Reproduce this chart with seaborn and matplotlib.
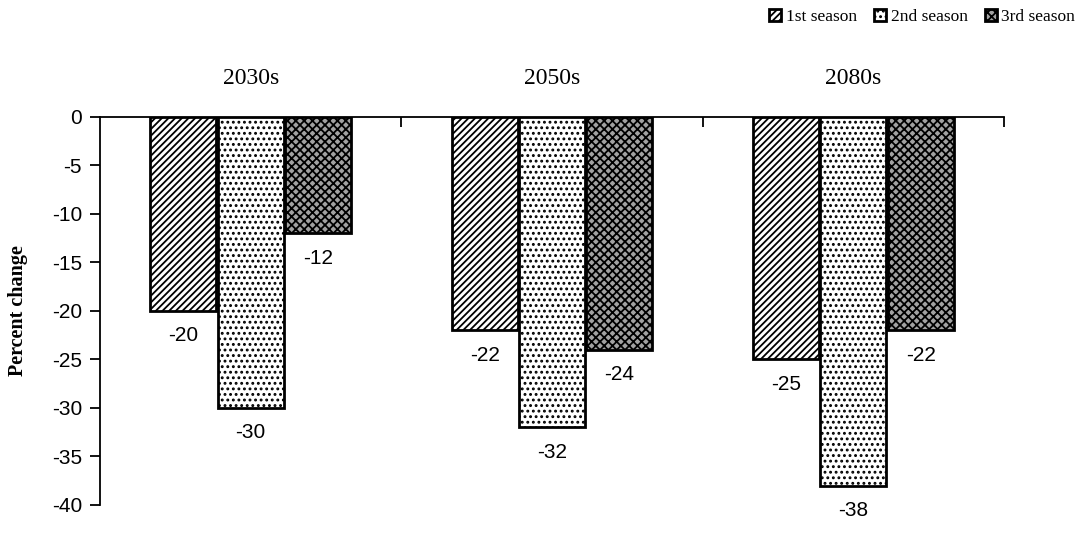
import matplotlib
matplotlib.use("Agg")
import matplotlib.pyplot as plt
from matplotlib.ticker import FixedLocator
import pandas as pd
import seaborn as sns

# Projected percent change by period and season
periods = ["2030s", "2050s", "2080s"]
seasons = ["1st season", "2nd season", "3rd season"]
season1 = [-20, -22, -25]
season2 = [-30, -32, -38]
season3 = [-12, -24, -22]
yticks = [0, -5, -10, -15, -20, -25, -30, -35, -40]

df = pd.DataFrame({
    "period": periods * 3,
    "season": [s for s in seasons for _ in periods],
    "change": season1 + season2 + season3,
})

sns.set_theme(style="white")
plt.rcParams["axes.unicode_minus"] = False
plt.rcParams["hatch.linewidth"] = 1.3
plt.rcParams["text.color"] = "black"

serif = ["Liberation Serif", "DejaVu Serif"]
sans = ["Liberation Sans", "DejaVu Sans"]

fig = plt.figure(figsize=(10.84, 5.36), dpi=100)
ax = fig.add_axes([0.0923, 0.058, 0.834, 0.724])

sns.barplot(data=df, x="period", y="change", hue="season", order=periods,
            hue_order=seasons, width=0.67, gap=0.02, ax=ax,
            edgecolor="black", linewidth=2.0, legend=False)

styles = [("white", "/////"), ("white", "..."), ("#a2a2a2", "xxxx")]
for cont, (fc, hatch) in zip(ax.containers, styles):
    for bar in cont:
        bar.set_facecolor(fc)
        bar.set_hatch(hatch)
        bar.set_edgecolor("black")
    ax.bar_label(cont, fmt="%d", padding=11, fontsize=15, family=sans,
                 color="black")

ax.set_ylim(-40, 0)
ax.set_xlim(-0.5, 2.5)
ax.set_yticks(yticks)
ax.set_yticklabels([str(t) for t in yticks], family=sans, fontsize=15)
ax.tick_params(axis="y", direction="out", length=7, width=1.3, left=True,
               pad=6, colors="black")

# category names sit above the zero line; small ticks mark group boundaries
ax.xaxis.tick_top()
ax.set_xticks(range(len(periods)))
ax.set_xticklabels(periods, family=serif, fontsize=17)
ax.tick_params(axis="x", which="major", length=0, pad=20, colors="black")
ax.xaxis.set_minor_locator(FixedLocator([0.5, 1.5, 2.5]))
ax.tick_params(axis="x", which="minor", direction="in", length=7, width=1.3,
               top=True, bottom=False, colors="black")
ax.set_xlabel("")

for side in ["bottom", "right"]:
    ax.spines[side].set_visible(False)
for side in ["top", "left"]:
    ax.spines[side].set_color("black")
    ax.spines[side].set_linewidth(1.3)

ax.set_ylabel("Percent change", family=serif, fontsize=14.5,
              fontweight="bold", color="black")
ax.yaxis.set_label_coords(-0.08, 0.5)

handles = [cont[0] for cont in ax.containers]
fig.legend(handles, seasons, loc="upper right", bbox_to_anchor=(1.0, 1.0),
           ncol=3, frameon=False, prop={"family": serif, "size": 12.5},
           handlelength=0.7, handleheight=0.7, handletextpad=0.25,
           columnspacing=1.0, borderaxespad=0.1)

fig.savefig("out.png", dpi=100, facecolor="white")
